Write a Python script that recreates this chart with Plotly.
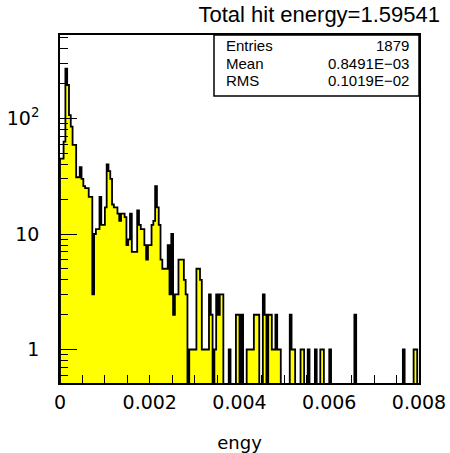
import numpy as np
import plotly.graph_objects as go

# ---- data ----
counts = [
    45, 45, 63, 270, 195, 107, 85, 59, 59, 31,
    31, 38, 30, 26, 25, 25, 21, 21, 3, 10,
    11, 11, 21, 12, 12, 17, 40, 35, 30, 18,
    17, 17, 15, 13, 15, 15, 14, 8, 9, 15,
    7, 7, 7, 16, 12, 11, 11, 8, 6, 8,
    8, 12, 13, 26, 17, 12, 6, 5, 5, 5,
    8, 3, 10, 2, 3, 3, 6, 6, 6, 4,
    3, 0, 1, 1, 1, 1, 5, 5, 4, 1,
    1, 1, 1, 3, 2, 0, 1, 3, 2, 3,
    3, 0, 0, 0, 1, 0, 0, 0, 2, 2,
    0, 2, 0, 0, 1, 1, 1, 1, 2, 2,
    2, 0, 0, 3, 2, 0, 2, 2, 1, 1,
    2, 1, 1, 0, 0, 0, 0, 0, 2, 1,
    1, 0, 0, 0, 1, 1, 0, 0, 1, 0,
    0, 0, 1, 0, 0, 1, 1, 0, 0, 0,
    1, 0, 0, 0, 0, 0, 0, 0, 0, 0,
    0, 0, 0, 0, 2, 0, 0, 0, 0, 0,
    0, 0, 0, 0, 0, 0, 0, 0, 0, 0,
    0, 0, 0, 0, 0, 0, 0, 0, 0, 0,
    0, 1, 0, 0, 0, 0, 0, 1, 1, 0,
]
x_min, x_max = 0.0, 0.008
title_text = "Total hit energy=1.59541"
x_title = "engy"
stats_labels = ["Entries", "Mean", "RMS"]
stats_values = ["1879", "0.8491E\u221203", "0.1019E\u221202"]
x_tickvals = [0.0, 0.002, 0.004, 0.006, 0.008]
x_ticktext = ["0", "0.002", "0.004", "0.006", "0.008"]
y_tickvals = [1, 10, 100]
y_ticktext = ["1", "10", "10<sup>2</sup>"]

# ---- geometry derived from the histogram definition ----
n_bins = len(counts)
edges = np.linspace(x_min, x_max, n_bins + 1)
centers = 0.5 * (edges[:-1] + edges[1:])
bin_w = edges[1] - edges[0]
c = np.array(counts, dtype=float)
bar_y = np.where(c > 0, c, np.nan)
floor = 1e-3
step_x = np.concatenate([[edges[0]], edges[:-1], [edges[-1]]])
step_y = np.concatenate([[floor], np.where(c > 0, c, floor), [floor]])

minor_y = [m * 10.0 ** d for d in range(-1, 3) for m in range(2, 10)]

fig = go.Figure()
fig.add_trace(go.Bar(x=centers, y=bar_y, width=bin_w,
                     marker=dict(color="#ffff00", line=dict(width=0)),
                     hoverinfo="skip"))
fig.add_trace(go.Scatter(x=step_x, y=step_y, mode="lines",
                         line=dict(color="black", width=1.8, shape="hv"),
                         hoverinfo="skip"))

font_tick = dict(family="DejaVu Sans", size=19, color="black")

fig.update_layout(
    width=450, height=453,
    margin=dict(l=60, r=31, t=35, b=70, autoexpand=False),
    paper_bgcolor="white", plot_bgcolor="white",
    showlegend=False, bargap=0,
    title=dict(text=title_text, x=440 / 450, xanchor="right",
               y=1 - 14 / 453, yanchor="middle",
               font=dict(family="Liberation Sans", size=22, color="black")),
)
fig.update_xaxes(
    automargin=False,
    range=[x_min, x_max], showgrid=False, zeroline=False,
    showline=True, mirror=True, linecolor="black", linewidth=1.5,
    ticks="inside", ticklen=8, tickwidth=1.2, tickcolor="black",
    tickmode="array", tickvals=x_tickvals, ticktext=x_ticktext,
    tickfont=font_tick, ticklabelstandoff=1,
    minor=dict(ticks="inside", ticklen=8, tickwidth=1.2, tickcolor="black",
               tickmode="linear", tick0=0, dtick=0.0005, showgrid=False),
    title=dict(text=x_title, standoff=28,
               font=dict(family="DejaVu Sans", size=18, color="black")),
)
fig.update_yaxes(
    automargin=False,
    type="log", range=[-0.29, 2.723], showgrid=False, zeroline=False,
    showline=True, mirror=True, linecolor="black", linewidth=1.5,
    ticks="inside", ticklen=17, tickwidth=1.2, tickcolor="black",
    tickmode="array", tickvals=y_tickvals, ticktext=y_ticktext,
    tickfont=font_tick, ticklabelstandoff=15,
    minor=dict(ticks="inside", ticklen=8, tickwidth=1.2, tickcolor="black",
               tickmode="array", tickvals=minor_y, showgrid=False),
)

# stats box
px0, px1 = 60, 419
py0, py1 = 35, 383
def fx(p):
    return (p - px0) / (px1 - px0)
def fy(p):
    return (py1 - p) / (py1 - py0)

fig.add_shape(type="rect", xref="paper", yref="paper",
              x0=fx(214), x1=1.0, y0=fy(96), y1=1.0,
              fillcolor="white", line=dict(color="black", width=1.5), layer="above")
rows_py = [45, 63, 80]
for lab, val, py in zip(stats_labels, stats_values, rows_py):
    fig.add_annotation(text=lab, xref="paper", yref="paper", x=fx(224), y=fy(py),
                       xanchor="left", yanchor="middle", showarrow=False,
                       font=dict(family="Liberation Sans", size=15, color="black"))
    fig.add_annotation(text=val, xref="paper", yref="paper", x=fx(411), y=fy(py),
                       xanchor="right", yanchor="middle", showarrow=False,
                       font=dict(family="Liberation Sans", size=15, color="black"))

fig.write_html("out.html")
